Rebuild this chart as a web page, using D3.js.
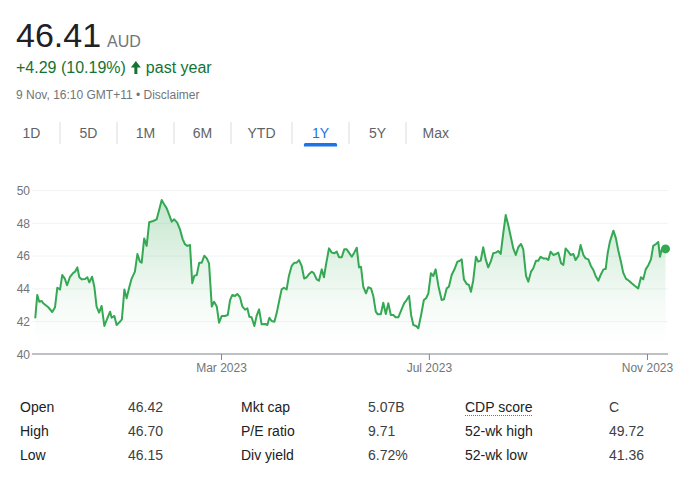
<!DOCTYPE html>
<html><head><meta charset="utf-8">
<script src="https://cdn.jsdelivr.net/npm/d3@7"></script>
<style>
html,body{margin:0;padding:0;background:#fff;}
svg{display:block;font-family:"Liberation Sans",Arial,Helvetica,sans-serif;}
</style></head><body>
<svg id="c" width="690" height="477"></svg>
<script>
// ---------- data ----------
const priceText = "46.41";
const currency = "AUD";
const changeText = "+4.29 (10.19%)";
const periodText = "past year";
const timestampText = "9 Nov, 16:10 GMT+11 \u2022 Disclaimer";
const tabs = ["1D","5D","1M","6M","YTD","1Y","5Y","Max"];
const activeTab = "1Y";
const yTicks = [40,42,44,46,48,50];
const xTickDays = [74.3,157.3,244.4];
const xTickLabels = ["Mar 2023","Jul 2023","Nov 2023"];
const totalDays = 252;
// [trading day, price]
const priceSeries = [
[0.1,42.18],[0.9,43.60],[1.7,43.19],[2.7,43.23],[3.3,43.09],[5.3,42.85],[6.9,42.56],[8.0,42.85],[8.9,44.04],[10.0,43.94],
[10.9,44.82],[11.9,44.60],[12.8,44.19],[14.0,44.71],[15.1,44.92],[16.0,45.02],[16.9,45.28],[17.7,44.68],[18.7,44.55],[20.0,44.57],
[20.9,44.68],[21.7,44.37],[22.8,44.71],[23.7,44.10],[24.6,42.89],[25.6,42.52],[26.6,42.93],[27.7,41.71],[28.9,42.18],[30.0,42.58],
[30.6,42.21],[31.7,42.32],[32.6,41.77],[33.7,41.93],[34.7,42.11],[35.7,43.94],[36.6,43.40],[37.7,44.10],[38.6,44.60],[39.9,45.02],
[40.9,46.10],[41.9,45.63],[42.6,45.57],[43.6,47.05],[44.6,46.59],[45.6,48.03],[47.2,48.11],[48.6,48.21],[49.5,48.74],[50.6,49.39],
[51.5,49.15],[52.6,48.88],[53.6,48.48],[54.6,48.07],[55.6,48.21],[56.8,48.01],[57.9,47.60],[59.0,46.99],[59.9,46.69],[60.8,46.59],
[61.9,46.65],[62.8,44.31],[63.6,44.76],[64.6,44.82],[65.6,45.57],[66.6,45.57],[67.6,45.99],[68.6,45.83],[69.5,45.53],[70.6,42.89],
[71.5,43.19],[72.6,42.89],[73.5,41.91],[74.6,42.32],[75.9,42.32],[77.0,42.38],[77.9,43.29],[78.8,43.60],[79.9,43.54],[80.8,43.66],
[81.9,43.45],[82.8,42.90],[83.9,42.70],[84.8,42.79],[85.6,42.27],[86.5,42.24],[87.6,41.71],[88.5,42.32],[89.5,42.72],[90.5,41.81],
[91.9,41.83],[92.8,41.77],[93.6,42.21],[94.5,42.01],[95.6,41.97],[96.5,42.48],[97.6,43.29],[98.5,43.94],[99.4,44.04],[100.5,43.94],
[101.4,44.76],[102.5,45.37],[103.6,45.57],[104.5,45.57],[105.4,45.73],[106.5,45.37],[107.5,44.60],[108.5,44.68],[109.5,44.88],[110.5,45.02],
[111.4,44.92],[112.5,44.55],[113.4,44.47],[114.5,45.16],[115.4,44.68],[116.2,45.43],[117.4,46.44],[118.5,46.18],[119.5,46.14],[120.5,46.24],
[121.4,45.90],[122.5,45.90],[123.5,46.38],[124.5,46.38],[126.5,45.93],[127.5,46.18],[128.5,46.48],[129.4,45.28],[130.2,45.32],[131.1,44.10],
[132.2,43.70],[133.1,44.07],[134.2,44.00],[135.1,43.54],[136.1,42.58],[136.9,42.42],[138.1,42.42],[139.1,43.13],[140.1,42.44],[141.1,43.09],
[142.1,42.38],[143.1,42.38],[144.0,42.24],[145.1,42.24],[146.2,42.64],[147.4,43.09],[148.4,43.29],[149.4,43.54],[150.2,42.38],[151.1,41.77],
[152.2,41.71],[153.1,41.57],[154.2,42.38],[155.3,43.29],[156.2,43.40],[157.1,43.70],[158.1,44.92],[159.1,44.76],[160.0,45.16],[161.1,44.15],
[162.4,43.29],[163.3,43.33],[164.4,44.00],[165.3,44.10],[166.4,44.82],[167.7,45.23],[168.7,45.63],[169.5,45.67],[170.4,45.77],[171.3,44.55],
[172.4,44.27],[173.3,44.21],[174.1,43.80],[175.0,44.47],[176.1,45.93],[177.0,45.63],[178.0,45.69],[179.0,46.51],[180.0,45.77],[181.0,45.28],
[182.0,45.63],[183.0,46.14],[184.0,46.18],[185.0,46.28],[186.0,46.10],[187.0,47.36],[188.0,48.48],[189.0,47.87],[190.1,47.09],[191.0,46.44],
[192.0,46.04],[193.0,46.51],[194.1,46.71],[195.0,46.38],[196.1,44.76],[197.0,44.41],[198.1,45.02],[199.0,45.23],[200.1,45.69],[201.0,45.69],
[201.9,45.93],[203.0,45.83],[204.1,45.83],[205.0,45.73],[205.9,46.24],[207.0,46.04],[208.1,46.10],[209.0,46.18],[210.1,45.53],[211.0,45.43],
[211.9,46.44],[213.0,46.24],[213.9,46.04],[215.0,46.10],[215.9,45.73],[217.0,45.98],[217.9,46.65],[219.0,46.04],[219.9,45.83],[221.0,45.77],
[222.0,45.37],[223.0,45.12],[223.9,44.76],[225.0,44.47],[225.9,44.82],[227.0,45.16],[227.9,45.18],[228.7,46.14],[229.6,46.85],[231.0,47.52],
[232.0,47.05],[232.9,46.34],[234.0,45.63],[234.9,44.96],[236.0,44.60],[237.2,44.47],[238.3,44.31],[239.6,44.15],[240.9,44.00],[242.0,44.68],
[242.9,44.55],[243.9,45.16],[245.0,45.43],[246.0,45.77],[246.9,46.59],[248.0,46.71],[248.9,46.83],[249.6,45.93],[250.3,46.38],[251.8,46.41]
];
const statLabels = [["Open","High","Low"],["Mkt cap","P/E ratio","Div yield"],["CDP score","52-wk high","52-wk low"]];
const statValues = [["46.42","46.70","46.15"],["5.07B","9.71","6.72%"],["C","49.72","41.36"]];

// ---------- drawing ----------
const svg = d3.select("#c");
const green = "#137333", lineGreen = "#34a853", grey = "#70757a", dark = "#202124", blue = "#1a73e8";

// header
const h = svg.append("g");
const pt = h.append("text").attr("x", 16).attr("y", 47).attr("font-size", 34).attr("fill", dark).text(priceText);
const pw = pt.node().getComputedTextLength();
h.append("text").attr("x", 16 + pw + 6).attr("y", 47).attr("font-size", 16).attr("fill", grey).text(currency);
const ct = h.append("text").attr("x", 16).attr("y", 73).attr("font-size", 16).attr("fill", green).text(changeText);
const cw = ct.node().getComputedTextLength();
const ax = 16 + cw + 5;
h.append("path").attr("fill", green)
  .attr("d", `M${ax},${67.5} L${ax + 5},${61} L${ax + 10},${67.5} L${ax + 6.5},${67.5} L${ax + 6.5},${74} L${ax + 3.5},${74} L${ax + 3.5},${67.5} Z`);
h.append("text").attr("x", 16 + cw + 20).attr("y", 73).attr("font-size", 16).attr("fill", green).text(periodText);
h.append("text").attr("x", 16).attr("y", 99).attr("font-size", 12).attr("fill", grey).text(timestampText);

// tabs
const tg = svg.append("g");
let cx = 3;
tabs.forEach((t, i) => {
  const tx = tg.append("text").attr("y", 138).attr("font-size", 14).attr("text-anchor", "middle")
    .attr("fill", t === activeTab ? blue : "#5f6368").text(t);
  const w = tx.node().getComputedTextLength();
  const tw = Math.max(57, w + 33);
  tx.attr("x", cx + tw / 2);
  if (t === activeTab) {
    const uw = w + 16;
    tg.append("path").attr("fill", blue)
      .attr("d", `M${cx + tw/2 - uw/2},146.5 v-2 a1.5,1.5 0 0 1 1.5,-1.5 h${uw-3} a1.5,1.5 0 0 1 1.5,1.5 v2 z`);
  }
  if (i < tabs.length - 1) {
    tg.append("line").attr("x1", cx + tw).attr("x2", cx + tw).attr("y1", 122).attr("y2", 144)
      .attr("stroke", "#dadce0").attr("stroke-width", 1);
  }
  cx += tw;
});

// chart
const x = d3.scaleLinear().domain([0, totalDays]).range([35, 666]);
const y = d3.scaleLinear().domain([40, 50]).range([354, 190]);

// gridlines
svg.append("g").attr("transform", "translate(668,0)")
  .call(d3.axisLeft(y).tickValues(yTicks.filter(v => v !== 40)).tickSize(636).tickFormat(""))
  .call(g => g.select(".domain").remove())
  .call(g => g.selectAll("line").attr("stroke", "#f1f3f4").attr("stroke-width", 1));

// y labels
svg.append("g").attr("transform", "translate(30,0)")
  .call(d3.axisLeft(y).tickValues(yTicks).tickSize(0).tickPadding(0))
  .call(g => g.select(".domain").remove())
  .call(g => g.selectAll("text").attr("fill", grey).attr("font-size", 12)
     .attr("font-family", "Liberation Sans, Arial, sans-serif").attr("dy", "0.36em"));

// area gradient
const defs = svg.append("defs");
const grad = defs.append("linearGradient").attr("id", "ag").attr("gradientUnits", "userSpaceOnUse")
  .attr("x1", 0).attr("x2", 0).attr("y1", y(49.4)).attr("y2", y(40.5));
grad.append("stop").attr("offset", 0).attr("stop-color", lineGreen).attr("stop-opacity", 0.28);
grad.append("stop").attr("offset", 0.7).attr("stop-color", lineGreen).attr("stop-opacity", 0.05);
grad.append("stop").attr("offset", 1).attr("stop-color", lineGreen).attr("stop-opacity", 0);

const area = d3.area().x(d => x(d[0])).y0(y(40)).y1(d => y(d[1]));
svg.append("path").datum(priceSeries).attr("d", area).attr("fill", "url(#ag)");

// x axis
svg.append("g").attr("transform", `translate(0,${y(40)})`)
  .call(d3.axisBottom(x).tickValues(xTickDays).tickFormat((d, i) => xTickLabels[i]).tickSize(6).tickPadding(3).tickSizeOuter(0))
  .call(g => g.select(".domain").attr("d", `M32,0H668`).attr("stroke", "#bdc1c6").attr("stroke-width", 2))
  .call(g => g.selectAll(".tick line").attr("stroke", "#80868b").attr("stroke-width", 1))
  .call(g => g.selectAll("text").attr("fill", grey).attr("font-size", 12)
     .attr("font-family", "Liberation Sans, Arial, sans-serif"));

// line
const line = d3.line().x(d => x(d[0])).y(d => y(d[1]));
svg.append("path").datum(priceSeries).attr("d", line).attr("fill", "none")
  .attr("stroke", lineGreen).attr("stroke-width", 2).attr("stroke-linejoin", "round");
const last = priceSeries[priceSeries.length - 1];
svg.append("circle").attr("cx", x(last[0])).attr("cy", y(last[1])).attr("r", 4.5).attr("fill", lineGreen);

// stats table
const colLabelX = [20, 241, 465], colValueX = [128, 368, 609], rowY = [412, 436, 460];
statLabels.forEach((col, c) => {
  col.forEach((lab, r) => {
    const t = svg.append("text").attr("x", colLabelX[c]).attr("y", rowY[r]).attr("font-size", 14)
      .attr("fill", dark).text(lab);
    if (lab === "CDP score") {
      const w = t.node().getComputedTextLength();
      svg.append("line").attr("x1", colLabelX[c]).attr("x2", colLabelX[c] + w)
        .attr("y1", rowY[r] + 3.5).attr("y2", rowY[r] + 3.5)
        .attr("stroke", grey).attr("stroke-width", 1).attr("stroke-dasharray", "1,1");
    }
    svg.append("text").attr("x", colValueX[c]).attr("y", rowY[r]).attr("font-size", 14)
      .attr("fill", "#3c4043").text(statValues[c][r]);
  });
});
</script>
</body></html>
